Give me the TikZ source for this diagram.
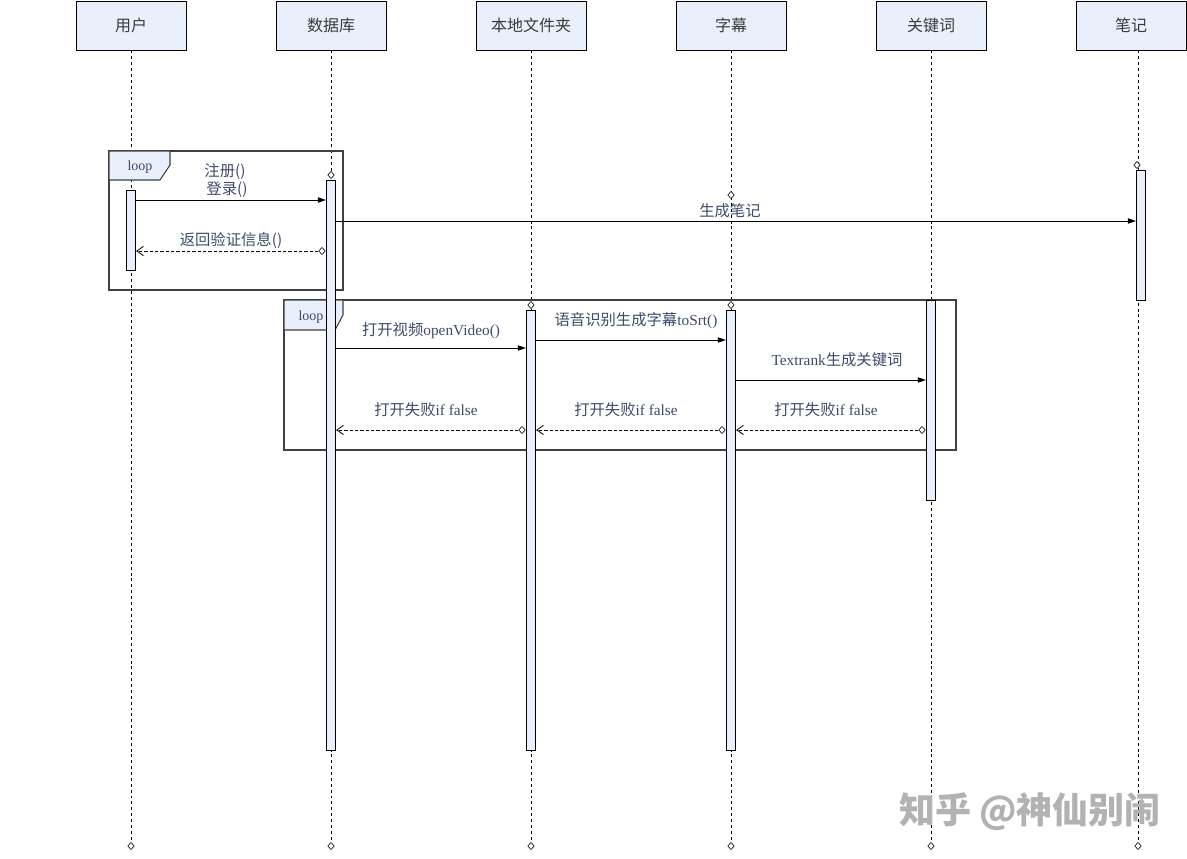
\documentclass[tikz,border=0pt]{standalone}
\usepackage{fontspec}
\setmainfont{Liberation Serif}
\newfontfamily\cjk{Noto Sans CJK SC}
\usetikzlibrary{arrows.meta,shapes.geometric}
\definecolor{boxblue}{HTML}{EAF0FB}
\definecolor{txt}{HTML}{3E4A6A}
\definecolor{headtxt}{HTML}{3A3A3A}
\begin{document}
\begin{tikzpicture}[x=0.75pt,y=-0.75pt,
  head/.style={draw=black, fill=boxblue, minimum width=82.5pt, minimum height=36.75pt, inner sep=0pt, font=\cjk\fontsize{12}{14}\selectfont, text=headtxt, line width=0.7pt},
  life/.style={draw=black, dash pattern=on 2.2pt off 2.2pt, line width=0.6pt},
  dmd/.style={diamond, draw=black, fill=white, inner sep=0pt, minimum width=5pt, minimum height=5.5pt, line width=0.45pt},
  bar/.style={draw=black, fill=boxblue, minimum width=7pt, inner sep=0pt, anchor=north, line width=0.7pt},
  msg/.style={draw=black, line width=0.7pt, -{Triangle[length=6pt,width=4pt]}},
  ret/.style={draw=black, line width=0.6pt, dash pattern=on 2.5pt off 1.5pt, -{Straight Barb[length=5pt,width=7pt]}},
  lbl/.style={text=txt, font=\fontsize{11.5}{13}\selectfont, inner sep=1pt},
  frm/.style={draw=black!75, line width=0.8pt},
  tab/.style={draw=black!75, fill=boxblue, line width=0.8pt},
  looptxt/.style={text=txt, font=\fontsize{10.5}{12}\selectfont, inner sep=0pt},
  wm/.style={text=black!30, font=\cjk\bfseries\fontsize{27}{30}\selectfont, inner sep=0pt}
]
\useasboundingbox (0,0) rectangle (1187,859);

% headers
\node[head] (h1) at (131,25.5) {用户};
\node[head] (h2) at (331,25.5) {数据库};
\node[head] (h3) at (531,25.5) {本地文件夹};
\node[head] (h4) at (731,25.5) {字幕};
\node[head] (h5) at (931,25.5) {关键词};
\node[head] (h6) at (1131,25.5) {笔记};

% bottom diamonds
\node[dmd] (e1) at (131,846) {};
\node[dmd] (e2) at (331,846) {};
\node[dmd] (e3) at (531,846) {};
\node[dmd] (e4) at (731,846) {};
\node[dmd] (e5) at (931,846) {};
\node[dmd] (e6) at (1138,846) {};

% lifelines
\draw[life] (h1.south) -- (e1.north);
\draw[life] (h2.south) -- (e2.north);
\draw[life] (h3.south) -- (e3.north);
\draw[life] (h4.south) -- (e4.north);
\draw[life] (h5.south) -- (e5.north);
\draw[life] (h6.south -| e6) -- (e6.north);

% frames
\draw[frm] (109,151) rectangle (343,290);
\draw[tab] (109,151) -- (170,151) -- (170,165) -- (160,180) -- (109,180) -- cycle;
\node[looptxt] (lp1) at (140,167) {loop};
\draw[frm] (284,300) rectangle (956,450);
\draw[tab] (284,300) -- (343,300) -- (343,315) -- (335,330) -- (284,330) -- cycle;
\node[looptxt] (lp2) at (311,317) {loop};

% activation bars
\node[bar, minimum height=60pt] (ub) at (131,190) {};
\node[bar, minimum height=427.5pt] (db) at (331,180) {};
\node[bar, minimum height=330pt] (fb) at (531,310) {};
\node[bar, minimum height=330pt] (sb) at (731,310) {};
\node[bar, minimum height=150pt] (kb) at (931,300) {};
\node[bar, minimum height=97.5pt] (nb) at (1141,170) {};

% top diamonds
\node[dmd] (d2) at (331,175) {};
\node[dmd] (d3) at (531,305) {};
\node[dmd] (d4) at (731,305) {};
\node[dmd] (d4b) at (731,195) {};
\node[dmd] (d6) at (1137,165) {};

% loop 1 messages
\draw[msg] (ub.east |- 0,200) -- (db.west |- 0,200);
\node[lbl] (l1a) at (225,172) {\cjk 注册()};
\node[lbl] (l1b) at (227,190) {\cjk 登录()};
\node[dmd] (r1) at (322,251) {};
\draw[ret] (r1.west) -- (ub.east |- r1);
\node[lbl] (l2) at (231,240) {\cjk 返回验证信息()};

\draw[msg] (db.east |- 0,221) -- (nb.west |- 0,221);
\node[lbl] (l3) at (730,211) {\cjk 生成笔记};

% loop 2 messages
\draw[msg] (db.east |- 0,348) -- (fb.west |- 0,348);
\node[lbl] (l4) at (431,331) {{\cjk 打开视频}openVideo()};
\draw[msg] (fb.east |- 0,340) -- (sb.west |- 0,340);
\node[lbl] (l5) at (636,321) {{\cjk 语音识别生成字幕}toSrt()};
\draw[msg] (sb.east |- 0,380) -- (kb.west |- 0,380);
\node[lbl] (l6) at (837,360) {Textrank{\cjk 生成关键词}};

\node[dmd] (r2) at (922,430) {};
\draw[ret] (r2.west) -- (sb.east |- r2);
\node[lbl] (l7) at (826,410) {{\cjk 打开失败}if false};
\node[dmd] (r3) at (722,430) {};
\draw[ret] (r3.west) -- (fb.east |- r3);
\node[lbl] (l8) at (626,410) {{\cjk 打开失败}if false};
\node[dmd] (r4) at (522,430) {};
\draw[ret] (r4.west) -- (db.east |- r4);
\node[lbl] (l9) at (426,410) {{\cjk 打开失败}if false};

% watermark
\node[wm] (wmk) at (1030,812) {知乎 @神仙别闹};
\end{tikzpicture}
\end{document}
